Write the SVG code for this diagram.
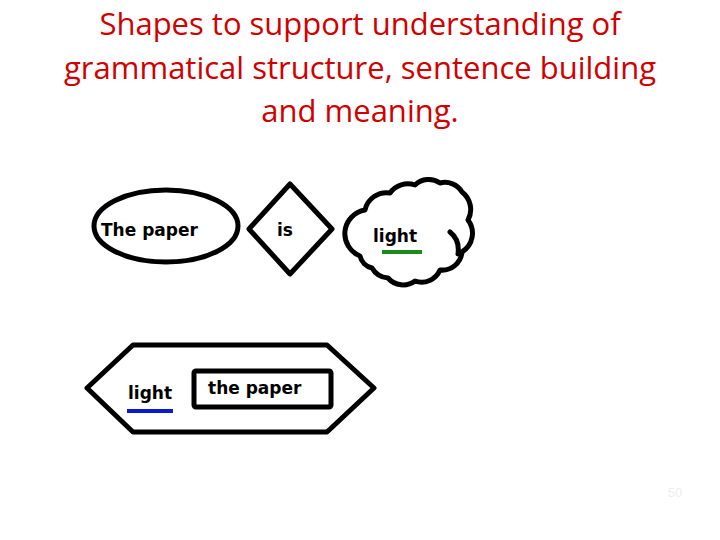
<svg xmlns="http://www.w3.org/2000/svg" width="720" height="540" viewBox="0 0 720 540">
<style>
.title{font-family:"Open Sans","Liberation Sans",sans-serif;font-size:31px;fill:#d00000;text-anchor:middle}
.lbl{font-family:"DejaVu Sans","Liberation Sans",sans-serif;font-size:17px;font-weight:bold;fill:#000}
.shape{fill:#fff;stroke:#000;stroke-width:5;stroke-linejoin:round}
</style>
<rect width="720" height="540" fill="#fff"/>
<g id="title">
<text class="title" x="360" y="35">Shapes to support understanding of</text>
<text class="title" x="360" y="79">grammatical structure, sentence building</text>
<text class="title" x="360" y="122">and meaning.</text>
</g>
<g id="node-the-paper">
<ellipse class="shape" cx="166" cy="226" rx="72" ry="36"/>
<text class="lbl" x="101" y="236">The paper</text>
</g>
<g id="node-is">
<polygon class="shape" points="290,184 332,229 290,274 249,229"/>
<text class="lbl" x="285" y="236" text-anchor="middle">is</text>
</g>
<g id="node-light-cloud">
<path class="shape" d="M360,256 A24,24 0 0 1 365,210 A22,22 0 0 1 390,193 A22,22 0 0 1 415,185 A20,20 0 0 1 440,183 A20,20 0 0 1 462,192 A22,22 0 0 1 468,220 A22,22 0 0 1 462,252 A20,20 0 0 1 440,270 A20,20 0 0 1 415,281 A20,20 0 0 1 388,278 A20,20 0 0 1 372,268 A16,16 0 0 1 360,256 Z"/>
<path d="M450,232 Q460,240 458,254" fill="none" stroke="#000" stroke-width="5" stroke-linecap="round"/>
<text class="lbl" x="373" y="242">light</text>
<line x1="382" y1="252" x2="422" y2="252" stroke="#1a8a1a" stroke-width="4"/>
</g>
<g id="node-hexagon">
<polygon class="shape" points="87,388 133,345 327,345 374,388 327,432 133,432"/>
<text class="lbl" x="128" y="399">light</text>
<line x1="127" y1="411" x2="173" y2="411" stroke="#0a1ad0" stroke-width="4"/>
<rect class="shape" x="194" y="371" width="137" height="36" rx="2"/>
<text class="lbl" x="208" y="394">the paper</text>
</g>
<g id="connectors"></g>
<text x="675" y="497" font-family="Liberation Sans, sans-serif" font-size="13" fill="#eeeeee" text-anchor="middle">50</text>
</svg>
